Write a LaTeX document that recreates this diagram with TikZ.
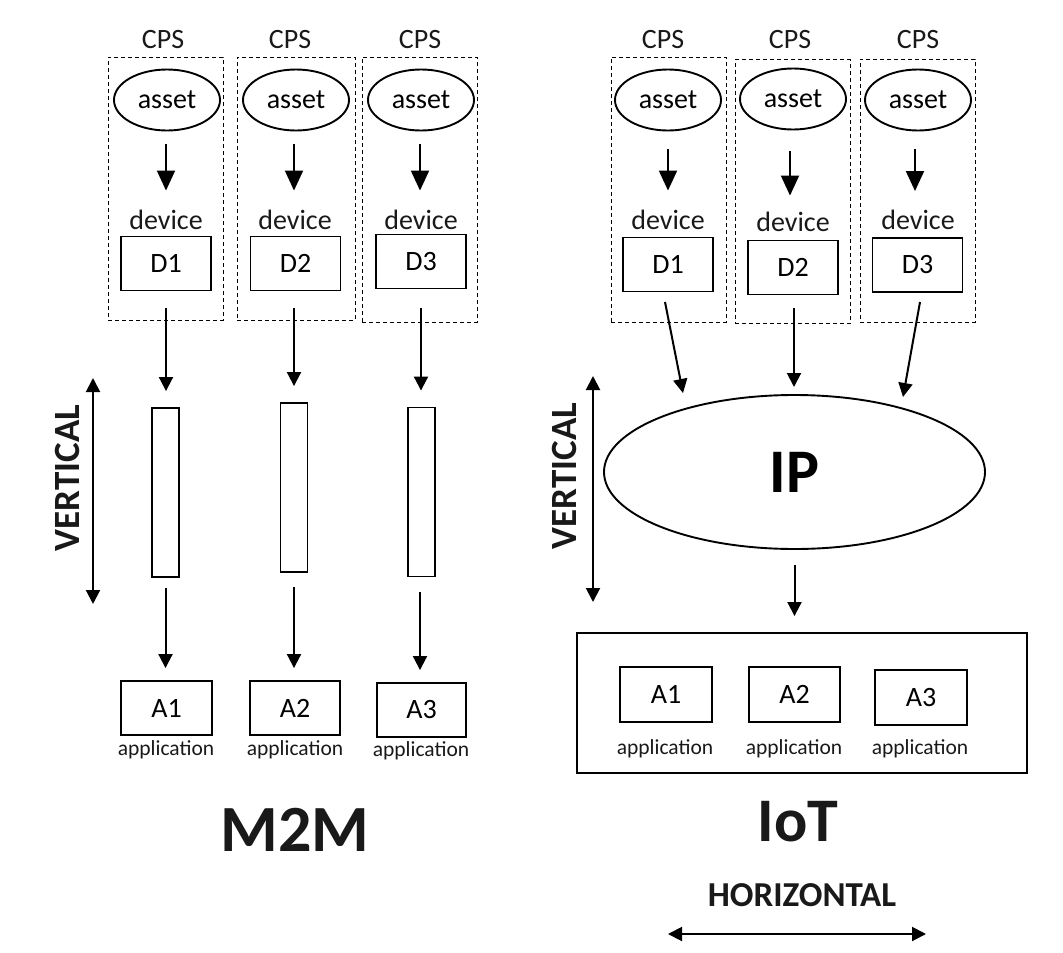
\documentclass[tikz,border=0pt]{standalone}
\usepackage{fontspec}
\setmainfont{Carlito}
\usetikzlibrary{shapes.geometric,arrows.meta}
\begin{document}
\begin{tikzpicture}[x=1pt,y=-1pt,
  txt/.style={font=\fontsize{28}{33}\selectfont, inner sep=0pt, text=black!90},
  apptxt/.style={font=\fontsize{21.5}{25}\selectfont, inner sep=0pt, text=black!90},
  assetnode/.style={ellipse, draw, line width=1.9pt, minimum width=106pt, minimum height=61pt, inner sep=0pt, font=\fontsize{28}{33}\selectfont},
  boxnode/.style={rectangle, draw, line width=1.9pt, minimum width=90pt, minimum height=54pt, inner sep=0pt, font=\fontsize{28}{33}\selectfont},
  barnode/.style={rectangle, draw, line width=1.9pt, minimum width=27pt, minimum height=169pt, inner sep=0pt},
  cpsbox/.style={draw, line width=0.9pt, dash pattern=on 4pt off 3pt},
  arr/.style={line width=2pt, -{Triangle[length=14pt,width=14pt]}},
  bigarr/.style={line width=2pt, -{Triangle[length=20pt,width=18pt]}},
  dblarr/.style={line width=2pt, {Triangle[length=14pt,width=14pt]}-{Triangle[length=14pt,width=14pt]}},
  bold/.style={font=\bfseries, inner sep=0pt, text=black!90}
]
\useasboundingbox (0,0) rectangle (1063,953);

% ---------------- Left: M2M ----------------
\node[cpsbox, minimum width=115pt, minimum height=263pt, inner sep=0pt] (lbox1) at (165.5,188.5) {};
\node[cpsbox, minimum width=118pt, minimum height=263pt, inner sep=0pt] (lbox2) at (296,188.5) {};
\node[cpsbox, minimum width=115pt, minimum height=265pt, inner sep=0pt] (lbox3) at (419.5,189.5) {};

\node[txt] (lcps1) at (163,40) {CPS};
\node[txt] (lcps2) at (290,40) {CPS};
\node[txt] (lcps3) at (420,40) {CPS};

\node[assetnode] (la1) at (167,100) {asset};
\node[assetnode] (la2) at (296,100) {asset};
\node[assetnode] (la3) at (421,100) {asset};

\node[txt] (ldev1) at (166,220) {device};
\node[txt] (ldev2) at (295,220) {device};
\node[txt] (ldev3) at (421,220) {device};

\node[boxnode] (ld1) at (166,263.5) {D1};
\node[boxnode] (ld2) at (295.5,263.5) {D2};
\node[boxnode] (ld3) at (421,261.5) {D3};

\node[barnode] (lb1) at (165.5,492.5) {};
\node[barnode] (lb2) at (294,487.5) {};
\node[barnode] (lb3) at (421.5,492) {};

\node[boxnode, minimum width=91pt] (lA1) at (166.5,708) {A1};
\node[boxnode] (lA2) at (295,708) {A2};
\node[boxnode, minimum width=89pt] (lA3) at (421.5,710) {A3};

\node[apptxt] (lap1) at (166,750) {application};
\node[apptxt] (lap2) at (295,750) {application};
\node[apptxt] (lap3) at (421,751) {application};

\draw[bigarr, shorten <=13pt, shorten >=45pt] (la1.south -| ld1.south) -- (ld1.north);
\draw[bigarr, shorten <=13pt, shorten >=45pt] (la2.south -| 294,0) -- (ld2.north -| 294,0);
\draw[bigarr, shorten <=13pt, shorten >=43pt] (la3.south -| 420,0) -- (ld3.north -| 420,0);

\draw[arr, shorten <=17pt, shorten >=16pt] (ld1.south) -- (lb1.north -| ld1.south);
\draw[arr, shorten <=17pt, shorten >=16pt] (ld2.south -| lb2.north) -- (lb2.north);
\draw[arr, shorten <=19pt, shorten >=16pt] (ld3.south -| 421,0) -- (lb3.north -| 421,0);

\draw[arr, shorten <=10pt, shorten >=12pt] (lb1.south) -- (lA1.north -| lb1.south);
\draw[arr, shorten <=14pt, shorten >=12pt] (lb2.south) -- (lA2.north -| lb2.south);
\draw[arr, shorten <=15pt, shorten >=12pt] (lb3.south -| 420,0) -- (lA3.north -| 420,0);

\coordinate (lv1) at (93,378);
\coordinate (lv2) at (93,604);
\draw[dblarr] (lv1) -- (lv2);
\node[bold, font=\fontsize{37}{44}\selectfont\bfseries, rotate=90] (lvert) at (67,478) {VERTICAL};

\node[bold, font=\fontsize{66}{78}\selectfont\bfseries] (m2m) at (295,830) {M2M};

% ---------------- Right: IoT ----------------
\node[cpsbox, minimum width=115pt, minimum height=265pt, inner sep=0pt] (rbox1) at (668.5,189.5) {};
\node[cpsbox, minimum width=115pt, minimum height=264pt, inner sep=0pt] (rbox2) at (792.5,191.5) {};
\node[cpsbox, minimum width=115pt, minimum height=263pt, inner sep=0pt] (rbox3) at (917.5,190.5) {};

\node[txt] (rcps1) at (663,40) {CPS};
\node[txt] (rcps2) at (790,40) {CPS};
\node[txt] (rcps3) at (918,40) {CPS};

\node[assetnode] (ra1) at (668,100) {asset};
\node[assetnode] (ra2) at (793,99) {asset};
\node[assetnode] (ra3) at (918,100) {asset};

\node[txt] (rdev1) at (668,220) {device};
\node[txt] (rdev2) at (793,222) {device};
\node[txt] (rdev3) at (918,220) {device};

\node[boxnode] (rd1) at (668,264.5) {D1};
\node[boxnode] (rd2) at (793,267.5) {D2};
\node[boxnode] (rd3) at (917.5,265) {D3};

\draw[bigarr, shorten <=18pt, shorten >=46pt] (ra1.south) -- (rd1.north);
\draw[bigarr, shorten <=21pt, shorten >=44pt] (ra2.south -| 790,0) -- (rd2.north -| 790,0);
\draw[bigarr, shorten <=18pt, shorten >=46pt] (ra3.south -| 915,0) -- (rd3.north -| 915,0);

\node[ellipse, draw, line width=1.9pt, minimum width=381pt, minimum height=154pt, inner sep=0pt,
      font=\fontsize{62}{74}\selectfont\bfseries] (ip) at (794.5,472) {IP};

\coordinate (t1) at (683,393);
\coordinate (t2) at (794,387);
\coordinate (t3) at (903,397);
\coordinate (s1) at (665,302);
\coordinate (s3) at (920,302);
\draw[arr] (s1) -- (t1);
\draw[arr, shorten <=13pt] (rd2.south -| t2) -- (t2);
\draw[arr] (s3) -- (t3);

\coordinate (rv1) at (593,376);
\coordinate (rv2) at (593,602);
\draw[dblarr] (rv1) -- (rv2);
\node[bold, font=\fontsize{37}{44}\selectfont\bfseries, rotate=90] (rvert) at (564,476) {VERTICAL};

\node[rectangle, draw, line width=1.9pt, minimum width=450pt, minimum height=140pt, inner sep=0pt] (appbox) at (802,703) {};
\draw[arr, shorten <=15pt, shorten >=16pt] (ip.south) -- (appbox.north -| ip.south);

\node[boxnode, minimum width=92pt, minimum height=55pt] (rA1) at (666,694.5) {A1};
\node[boxnode, minimum width=91pt, minimum height=55pt] (rA2) at (794.5,694.5) {A2};
\node[boxnode, minimum width=92pt, minimum height=55pt] (rA3) at (921,697.5) {A3};

\node[apptxt] (rap1) at (665,749) {application};
\node[apptxt] (rap2) at (794,749) {application};
\node[apptxt] (rap3) at (920,749) {application};

\node[bold, font=\fontsize{62}{74}\selectfont\bfseries] (iot) at (798,822) {IoT};
\node[bold, font=\fontsize{35}{42}\selectfont\bfseries] (horiz) at (802,895) {HORIZONTAL};
\coordinate (h1) at (668,934);
\coordinate (h2) at (926,934);
\draw[dblarr] (h1) -- (h2);
\end{tikzpicture}
\end{document}
